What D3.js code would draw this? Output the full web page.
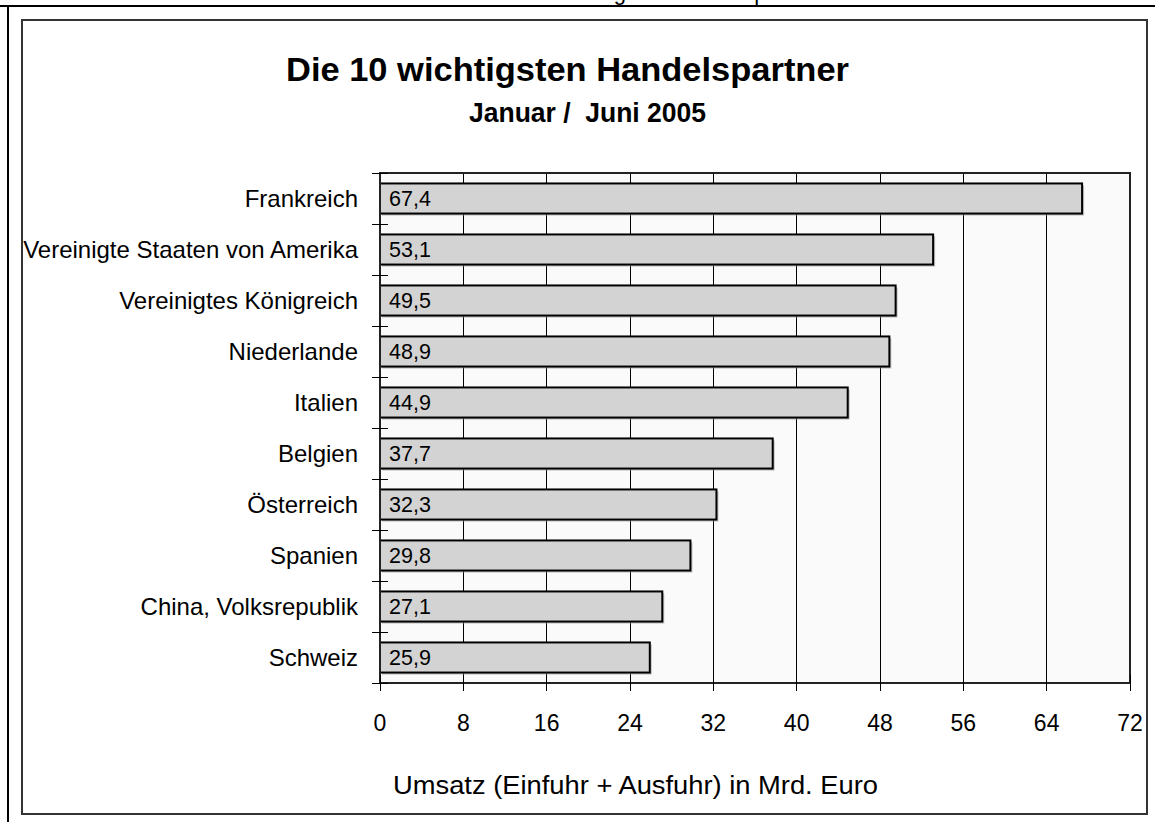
<!DOCTYPE html>
<html><head><meta charset="utf-8">
<script src="https://cdn.jsdelivr.net/npm/d3@7"></script>
<style>
html,body{margin:0;padding:0;background:#fff;overflow:hidden}
svg{display:block;font-family:"Liberation Sans",Arial,sans-serif}
</style></head>
<body>
<svg id="chart" width="1155" height="822"></svg>
<script>
const categories = ["Frankreich","Vereinigte Staaten von Amerika","Vereinigtes Königreich","Niederlande","Italien","Belgien","Österreich","Spanien","China, Volksrepublik","Schweiz"];
const values = [67.4,53.1,49.5,48.9,44.9,37.7,32.3,29.8,27.1,25.9];
const xTicks = [0,8,16,24,32,40,48,56,64,72];
const titleText = "Die 10 wichtigsten Handelspartner";
const subtitleText = "Januar /  Juni 2005";
const axisTitleText = "Umsatz (Einfuhr + Ausfuhr) in Mrd. Euro";

const svg = d3.select("#chart");
const plot = {left:380, right:1130, top:173, bottom:683};

// clipped page heading above (cut off at the top edge, as in the reference)
svg.append("text").attr("x",489).attr("y",0).attr("font-size",22).attr("fill","#000").text(titleText);

// outer frame lines
svg.append("line").attr("x1",0).attr("x2",1155).attr("y1",6).attr("y2",6).attr("stroke","#000").attr("stroke-width",2);
svg.append("line").attr("x1",8).attr("x2",8).attr("y1",6).attr("y2",822).attr("stroke","#000").attr("stroke-width",2);
// chart box
svg.append("rect").attr("x",22).attr("y",20).attr("width",1125).attr("height",794).attr("fill","#fff").attr("stroke","#333").attr("stroke-width",2);

// titles
svg.append("text").attr("x",567.5).attr("y",81).attr("text-anchor","middle").attr("font-size",34).attr("font-weight","bold")
  .attr("textLength",563).attr("lengthAdjust","spacingAndGlyphs").text(titleText);
svg.append("text").attr("x",587.5).attr("y",121.5).attr("text-anchor","middle").attr("font-size",28).attr("font-weight","bold")
  .style("white-space","pre")
  .attr("textLength",237).attr("lengthAdjust","spacingAndGlyphs").text(subtitleText);

const x = d3.scaleLinear().domain([0,72]).range([plot.left,plot.right]);
const y = d3.scaleBand().domain(categories).range([plot.top,plot.bottom]).paddingInner(0.41).paddingOuter(0.205);
const yb = d3.scaleBand().domain(categories).range([plot.top,plot.bottom]);

// plot bg
svg.append("rect").attr("x",plot.left).attr("y",plot.top).attr("width",plot.right-plot.left).attr("height",plot.bottom-plot.top).attr("fill","#fafafa");

// gridlines
svg.append("g").selectAll("line").data(xTicks.slice(1,-1)).join("line")
  .attr("x1",d=>x(d)).attr("x2",d=>x(d)).attr("y1",plot.top).attr("y2",plot.bottom)
  .attr("stroke","#000").attr("stroke-width",1).attr("shape-rendering","crispEdges");

// bars shadow + bars
svg.append("g").selectAll("rect").data(values).join("rect")
  .attr("x",x(0)+2).attr("y",(d,i)=>y(categories[i])+2).attr("width",d=>x(d)-x(0)).attr("height",y.bandwidth())
  .attr("fill","#9a9a9a").attr("opacity",0.6);
svg.append("g").selectAll("rect").data(values).join("rect")
  .attr("x",x(0)).attr("y",(d,i)=>y(categories[i])).attr("width",d=>x(d)-x(0)).attr("height",y.bandwidth())
  .attr("fill","#d3d3d3").attr("stroke","#000").attr("stroke-width",2);

// value labels
svg.append("g").selectAll("text").data(values).join("text")
  .attr("x",x(0)+9).attr("y",(d,i)=>y(categories[i])+y.bandwidth()/2+7.5)
  .attr("font-size",21.5).attr("fill","#000").text(d=>d.toFixed(1).replace(".",","));

// plot border
svg.append("rect").attr("x",plot.left).attr("y",plot.top).attr("width",plot.right-plot.left).attr("height",plot.bottom-plot.top)
  .attr("fill","none").attr("stroke","#222").attr("stroke-width",2);

// y axis ticks (band boundaries)
const bounds = categories.map(c=>yb(c)).concat([plot.bottom]);
svg.append("g").selectAll("line").data(bounds).join("line")
  .attr("x1",plot.left-8).attr("x2",plot.left+8).attr("y1",d=>d).attr("y2",d=>d)
  .attr("stroke","#000").attr("stroke-width",1).attr("shape-rendering","crispEdges");
// category labels
svg.append("g").selectAll("text").data(categories).join("text")
  .attr("x",358).attr("y",d=>yb(d)+yb.bandwidth()/2+8).attr("text-anchor","end")
  .attr("font-size",24).attr("fill","#000").text(d=>d);

// x axis ticks
svg.append("g").selectAll("line").data(xTicks).join("line")
  .attr("x1",d=>x(d)).attr("x2",d=>x(d)).attr("y1",plot.bottom-8).attr("y2",plot.bottom+8)
  .attr("stroke","#000").attr("stroke-width",1).attr("shape-rendering","crispEdges");
svg.append("g").selectAll("text").data(xTicks).join("text")
  .attr("x",d=>x(d)).attr("y",731).attr("text-anchor","middle")
  .attr("font-size",23).attr("fill","#000").text(d=>d);

// axis title
svg.append("text").attr("x",635.5).attr("y",794).attr("text-anchor","middle").attr("font-size",25)
  .attr("textLength",485).attr("lengthAdjust","spacingAndGlyphs").text(axisTitleText);
</script>
</body></html>
